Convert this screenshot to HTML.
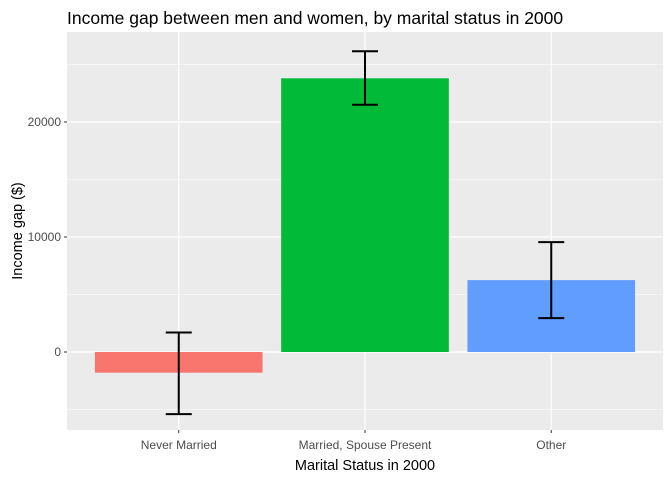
<!DOCTYPE html>
<html><head><meta charset="utf-8"><style>
body{margin:0;background:#fff;}
svg text{font-family:"Liberation Sans",Arial,sans-serif;}
</style></head><body>
<svg id="chart" width="672" height="480" xmlns="http://www.w3.org/2000/svg">
<rect width="672" height="480" fill="#fff"/>
<text x="67" y="24" font-size="17.5" fill="#000">Income gap between men and women, by marital status in 2000</text>
<rect x="67" y="32" width="596" height="398" fill="#ebebeb"/>
<g id="grid"></g><g id="bars"></g><g id="errs"></g><g id="axes"></g>
<text x="365" y="470" font-size="14.5" text-anchor="middle" fill="#000">Marital Status in 2000</text>
<text transform="translate(22,231) rotate(-90)" font-size="14.5" text-anchor="middle" fill="#000">Income gap ($)</text>
</svg>
<script>
var categories=["Never Married","Married, Spouse Present","Other"];
var values=[-1800,23800,6250];
var lower=[-5400,21500,2950];
var upper=[1700,26150,9550];
var colors=["#F8766D","#00BA38","#619CFF"];
var yTicks=[0,10000,20000];
var yMinor=[-5000,5000,15000,25000];
var SVGNS="http://www.w3.org/2000/svg";
var px0=67,px1=663,py0=32,py1=430,ymin=-6783,ymax=27826;
function sy(v){return py1-(v-ymin)/(ymax-ymin)*(py1-py0);}
var step=(px1-px0)/(categories.length+0.2);
function sx(i){return px0+step*(i+0.6);}
function mk(tag,attrs,parent){var el=document.createElementNS(SVGNS,tag);Object.keys(attrs).forEach(function(k){el.setAttribute(k,String(attrs[k]));});parent.appendChild(el);return el;}
var gGrid=document.getElementById('grid');
var gBars=document.getElementById('bars');
var gErr=document.getElementById('errs');
var gAx=document.getElementById('axes');
for(var a=0;a<yMinor.length;a++){
 var ml=mk('line',{x1:px0,x2:px1,y1:sy(yMinor[a]),y2:sy(yMinor[a]),stroke:'#fff','stroke-width':0.6},gGrid);
 
 
}
for(var b2=0;b2<yTicks.length;b2++){
 var v=yTicks[b2];
 var gl=mk('line',{x1:px0,x2:px1,y1:sy(v),y2:sy(v),stroke:'#fff','stroke-width':1.2},gGrid);
 
 
 var yl=mk('text',{x:px0-6,y:sy(v)+4,'font-size':12,'text-anchor':'end',fill:'#4d4d4d'},gAx);
 yl.textContent=String(v);
 
 
 var yt=mk('line',{x1:px0-3,x2:px0,y1:sy(v),y2:sy(v),stroke:'#333'},gAx);
 
 
}
var bw=step*0.9,cw=26;
for(var i=0;i<categories.length;i++){
 var cx=sx(i);
 var xg=mk('line',{x1:cx,x2:cx,y1:py0,y2:py1,stroke:'#fff','stroke-width':1.2},gGrid);
 
 
 var bar=mk('rect',{x:cx-bw/2,y:Math.min(sy(values[i]),sy(0)),width:bw,height:Math.abs(sy(values[i])-sy(0)),fill:colors[i]},gBars);
 
 
 var yu=sy(upper[i]),yd=sy(lower[i]);
 var eb=mk('path',{d:'M'+(cx-cw/2)+','+yu+'H'+(cx+cw/2)+'M'+cx+','+yu+'V'+yd+'M'+(cx-cw/2)+','+yd+'H'+(cx+cw/2),stroke:'#000','stroke-width':2,fill:'none'},gErr);
 
 
 var xl=mk('text',{x:cx,y:py1+19,'font-size':12,'text-anchor':'middle',fill:'#4d4d4d'},gAx);
 xl.textContent=categories[i];
 
 
 var xt=mk('line',{x1:cx,x2:cx,y1:py1,y2:py1+3,stroke:'#333'},gAx);
 
 
}
</script>
</body></html>
